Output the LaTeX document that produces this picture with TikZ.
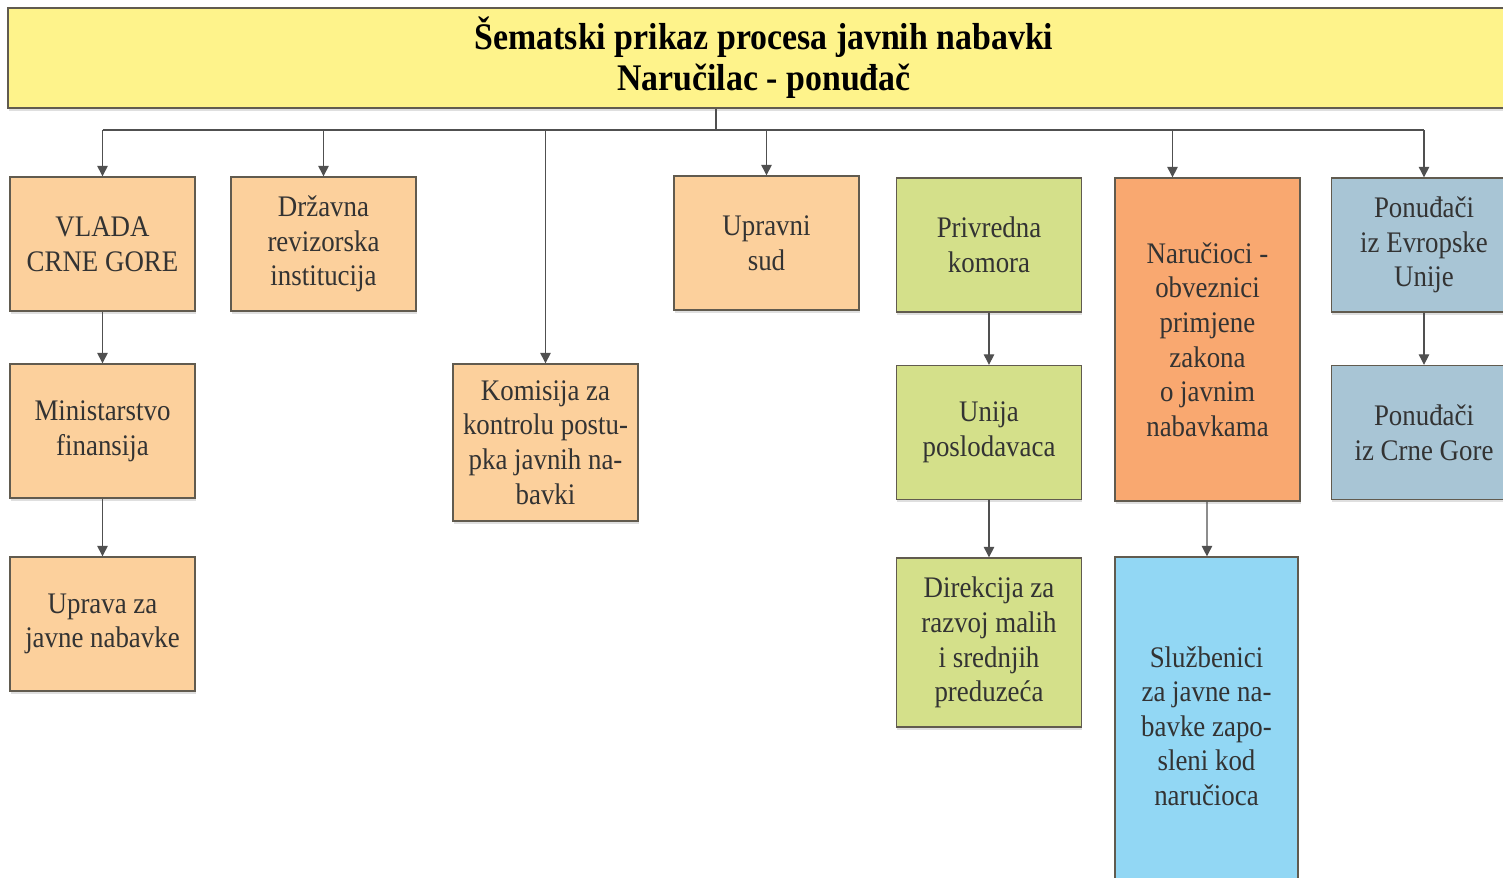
\documentclass[tikz,border=0pt]{standalone}
\usepackage{fontspec}
\setmainfont{Liberation Serif}[FakeStretch=0.9]
\usepackage{tikz}
\usetikzlibrary{arrows.meta, calc, shadows}
\definecolor{peach}{HTML}{FCD09C}
\definecolor{leaf}{HTML}{D4E08A}
\definecolor{apricot}{HTML}{F9A870}
\definecolor{slate}{HTML}{A8C5D5}
\definecolor{sky}{HTML}{92D7F4}
\definecolor{lemon}{HTML}{FEF38B}
\definecolor{rim}{HTML}{615B4F}
\definecolor{wire}{HTML}{505050}

\begin{document}
\begin{tikzpicture}[x=0.02cm, y=-0.02cm,
	box/.style={draw=rim, line width=0.8pt, minimum width=3.7cm, minimum height=2.68cm,
		align=center, inner sep=1pt, text=black!80,
		font=\fontsize{17}{19.7}\selectfont,
		drop shadow={shadow xshift=0.5pt, shadow yshift=-1.5pt, fill=black!25}},
	arr/.style={draw=wire, line width=0.7pt, -{Triangle[width=6pt, length=6pt]}},
	wireline/.style={draw=wire, line width=0.7pt}]
		\useasboundingbox (0,0) rectangle (1503,877);
		\node[box, fill=lemon, minimum width=30.24cm, minimum height=2cm, text=black,
			font=\fontsize{21.4}{23.5}\selectfont\bfseries] (title) at (764, 58)
			{Šematski prikaz procesa javnih nabavki\\Naručilac - ponuđač};
		\node[box, fill=peach] (vlada) at (102.5, 244) {VLADA\\CRNE GORE};
		\node[box, fill=peach] (drzavna) at (323.5, 244) {Državna\\revizorska\\institucija};
		\node[box, fill=peach] (upravni) at (766.5, 243) {Upravni\\sud};
		\node[box, fill=leaf] (privredna) at (989, 245) {Privredna\\komora};
		\node[box, fill=apricot, minimum height=6.46cm] (narucioci) at (1207.5, 339.5)
			{Naručioci -\\obveznici\\primjene\\zakona\\o javnim\\nabavkama};
		\node[box, fill=slate] (ponEU) at (1424, 245) {Ponuđači\\iz Evropske\\Unije};
		\node[box, fill=peach] (ministarstvo) at (102.5, 431) {Ministarstvo\\finansija};
		\node[box, fill=peach] (uprava) at (102.5, 624) {Uprava za\\javne nabavke};
		\node[box, fill=peach, minimum height=3.14cm] (komisija) at (545.5, 442.5)
			{Komisija za\\kontrolu postu-\\pka javnih na-\\bavki};
		\node[box, fill=leaf] (unija) at (989, 432.5) {Unija\\poslodavaca};
		\node[box, fill=leaf, minimum height=3.38cm] (direkcija) at (989, 642.5)
			{Direkcija za\\razvoj malih\\i srednjih\\preduzeća};
		\node[box, fill=sky, minimum width=3.66cm, minimum height=6.76cm] (sluzbenici) at (1206.5, 726)
			{Službenici\\za javne na-\\bavke zapo-\\sleni kod\\naručioca};
		\node[box, fill=slate] (ponCG) at (1424, 432.5) {Ponuđači\\iz Crne Gore};
		% sabirna linija
		\coordinate (bus) at (716, 130);
		\draw[wireline] (title.south -| bus) -- (bus);
		\draw[wireline] (vlada.north |- bus) -- (ponEU.north |- bus);
		\draw[arr] (vlada.north |- bus) -- (vlada.north);
		\draw[arr] (drzavna.north |- bus) -- (drzavna.north);
		\draw[arr] (komisija.north |- bus) -- (komisija.north);
		\draw[arr] (upravni.north |- bus) -- (upravni.north);
		\draw[arr] ($(narucioci.north |- bus)+(-35,0)$) -- ($(narucioci.north)+(-35,0)$);
		\draw[arr] (ponEU.north |- bus) -- (ponEU.north);
		% veze ispod
		\draw[arr] (vlada) -- (ministarstvo);
		\draw[arr] (ministarstvo) -- (uprava);
		\draw[arr] (privredna) -- (unija);
		\draw[arr] (unija) -- (direkcija);
		\draw[arr] (narucioci) -- (sluzbenici);
		\draw[arr] (ponEU) -- (ponCG);
\end{tikzpicture}
\end{document}
